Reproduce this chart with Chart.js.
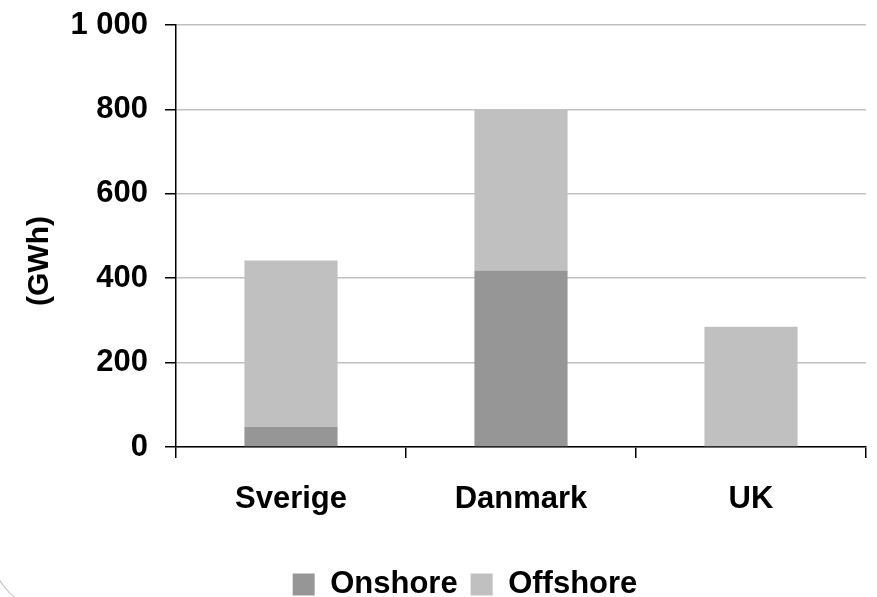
<!DOCTYPE html>
<html>
<head>
<meta charset="utf-8">
<script src="https://cdn.jsdelivr.net/npm/chart.js@4/dist/chart.umd.min.js"></script>
<style>
    html, body { margin: 0; padding: 0; background: #fff; }
    #wrap { width: 877px; height: 597px; }
</style>
</head>
<body>
<div id="wrap"><canvas id="windChart" width="877" height="597"></canvas></div>
<script>
var countries = ['Sverige', 'Danmark', 'UK'];
var onshore = [48, 418, 0];
var offshore = [394, 382, 285];
var yTicks = [0, 200, 400, 600, 800, 1000];

Chart.defaults.font.family = '"Liberation Sans", Arial, sans-serif';
Chart.defaults.font.weight = 'bold';
Chart.defaults.font.size = 31;
Chart.defaults.color = '#000';

// rundat hörn på ramen nere till vänster
var frameCorner = {
    id: 'frameCorner',
    afterDraw: function (chart) {
        var ctx = chart.ctx;
        ctx.save();
        ctx.strokeStyle = '#c8c8c8';
        ctx.lineWidth = 1.2;
        ctx.beginPath();
        ctx.arc(58, 545, 68, Math.PI / 2, Math.PI);
        ctx.stroke();
        ctx.restore();
    }
};

var windChartCanvas = document.getElementById('windChart').getContext('2d');
var windChart = new Chart(windChartCanvas, {
    type: 'bar',
    data: {
        labels: countries,
        datasets: [{
            label: 'Onshore',
            data: onshore,
            backgroundColor: '#969696',
            borderWidth: 0,
            categoryPercentage: 1,
            barPercentage: 0.405,
        }, {
            label: 'Offshore',
            data: offshore,
            backgroundColor: '#c0c0c0',
            borderWidth: 0,
            categoryPercentage: 1,
            barPercentage: 0.405,
        }],
    },
    options: {
        responsive: false,
        animation: false,
        layout: {
            // vänster padding flyttar legenden åt höger som i originalet
            padding: { top: 25, right: 11, bottom: -13, left: 64 },
        },
        plugins: {
            tooltip: { enabled: false },
            legend: {
                position: 'bottom',
                labels: {
                    boxWidth: 22,
                    boxHeight: 22,
                    padding: 13,
                    font: { size: 31, weight: 'bold' },
                },
            },
        },
        scales: {
            x: {
                stacked: true,
                offset: true,
                grid: {
                    offset: true,
                    drawOnChartArea: false,
                    color: '#000',
                    tickLength: 11,
                    lineWidth: 1.5,
                },
                border: { color: '#000', width: 1.5 },
                ticks: { padding: 23, maxRotation: 0 },
                afterFit: function (scale) { scale.height = 109; },
            },
            y: {
                stacked: true,
                min: 0,
                max: 1000,
                afterBuildTicks: function (scale) {
                    scale.ticks = yTicks.map(function (v) { return { value: v }; });
                },
                grid: {
                    color: '#c0c0c0',
                    lineWidth: 1.5,
                    tickColor: '#000',
                    tickLength: 11,
                },
                border: { color: '#000', width: 1.5 },
                ticks: {
                    padding: 17,
                    callback: function (v) {
                        return String(v).replace(/\B(?=(\d{3})+(?!\d))/g, ' ');
                    },
                },
                title: {
                    display: true,
                    text: '(GWh)      ',
                    font: { size: 30, weight: 'bold' },
                    padding: { top: -42, bottom: 0 },
                },
                afterFit: function (scale) {
                    scale.width = 112;
                    scale.paddingTop = 0;
                },
            },
        },
    },
    plugins: [frameCorner],
});
</script>
</body>
</html>
